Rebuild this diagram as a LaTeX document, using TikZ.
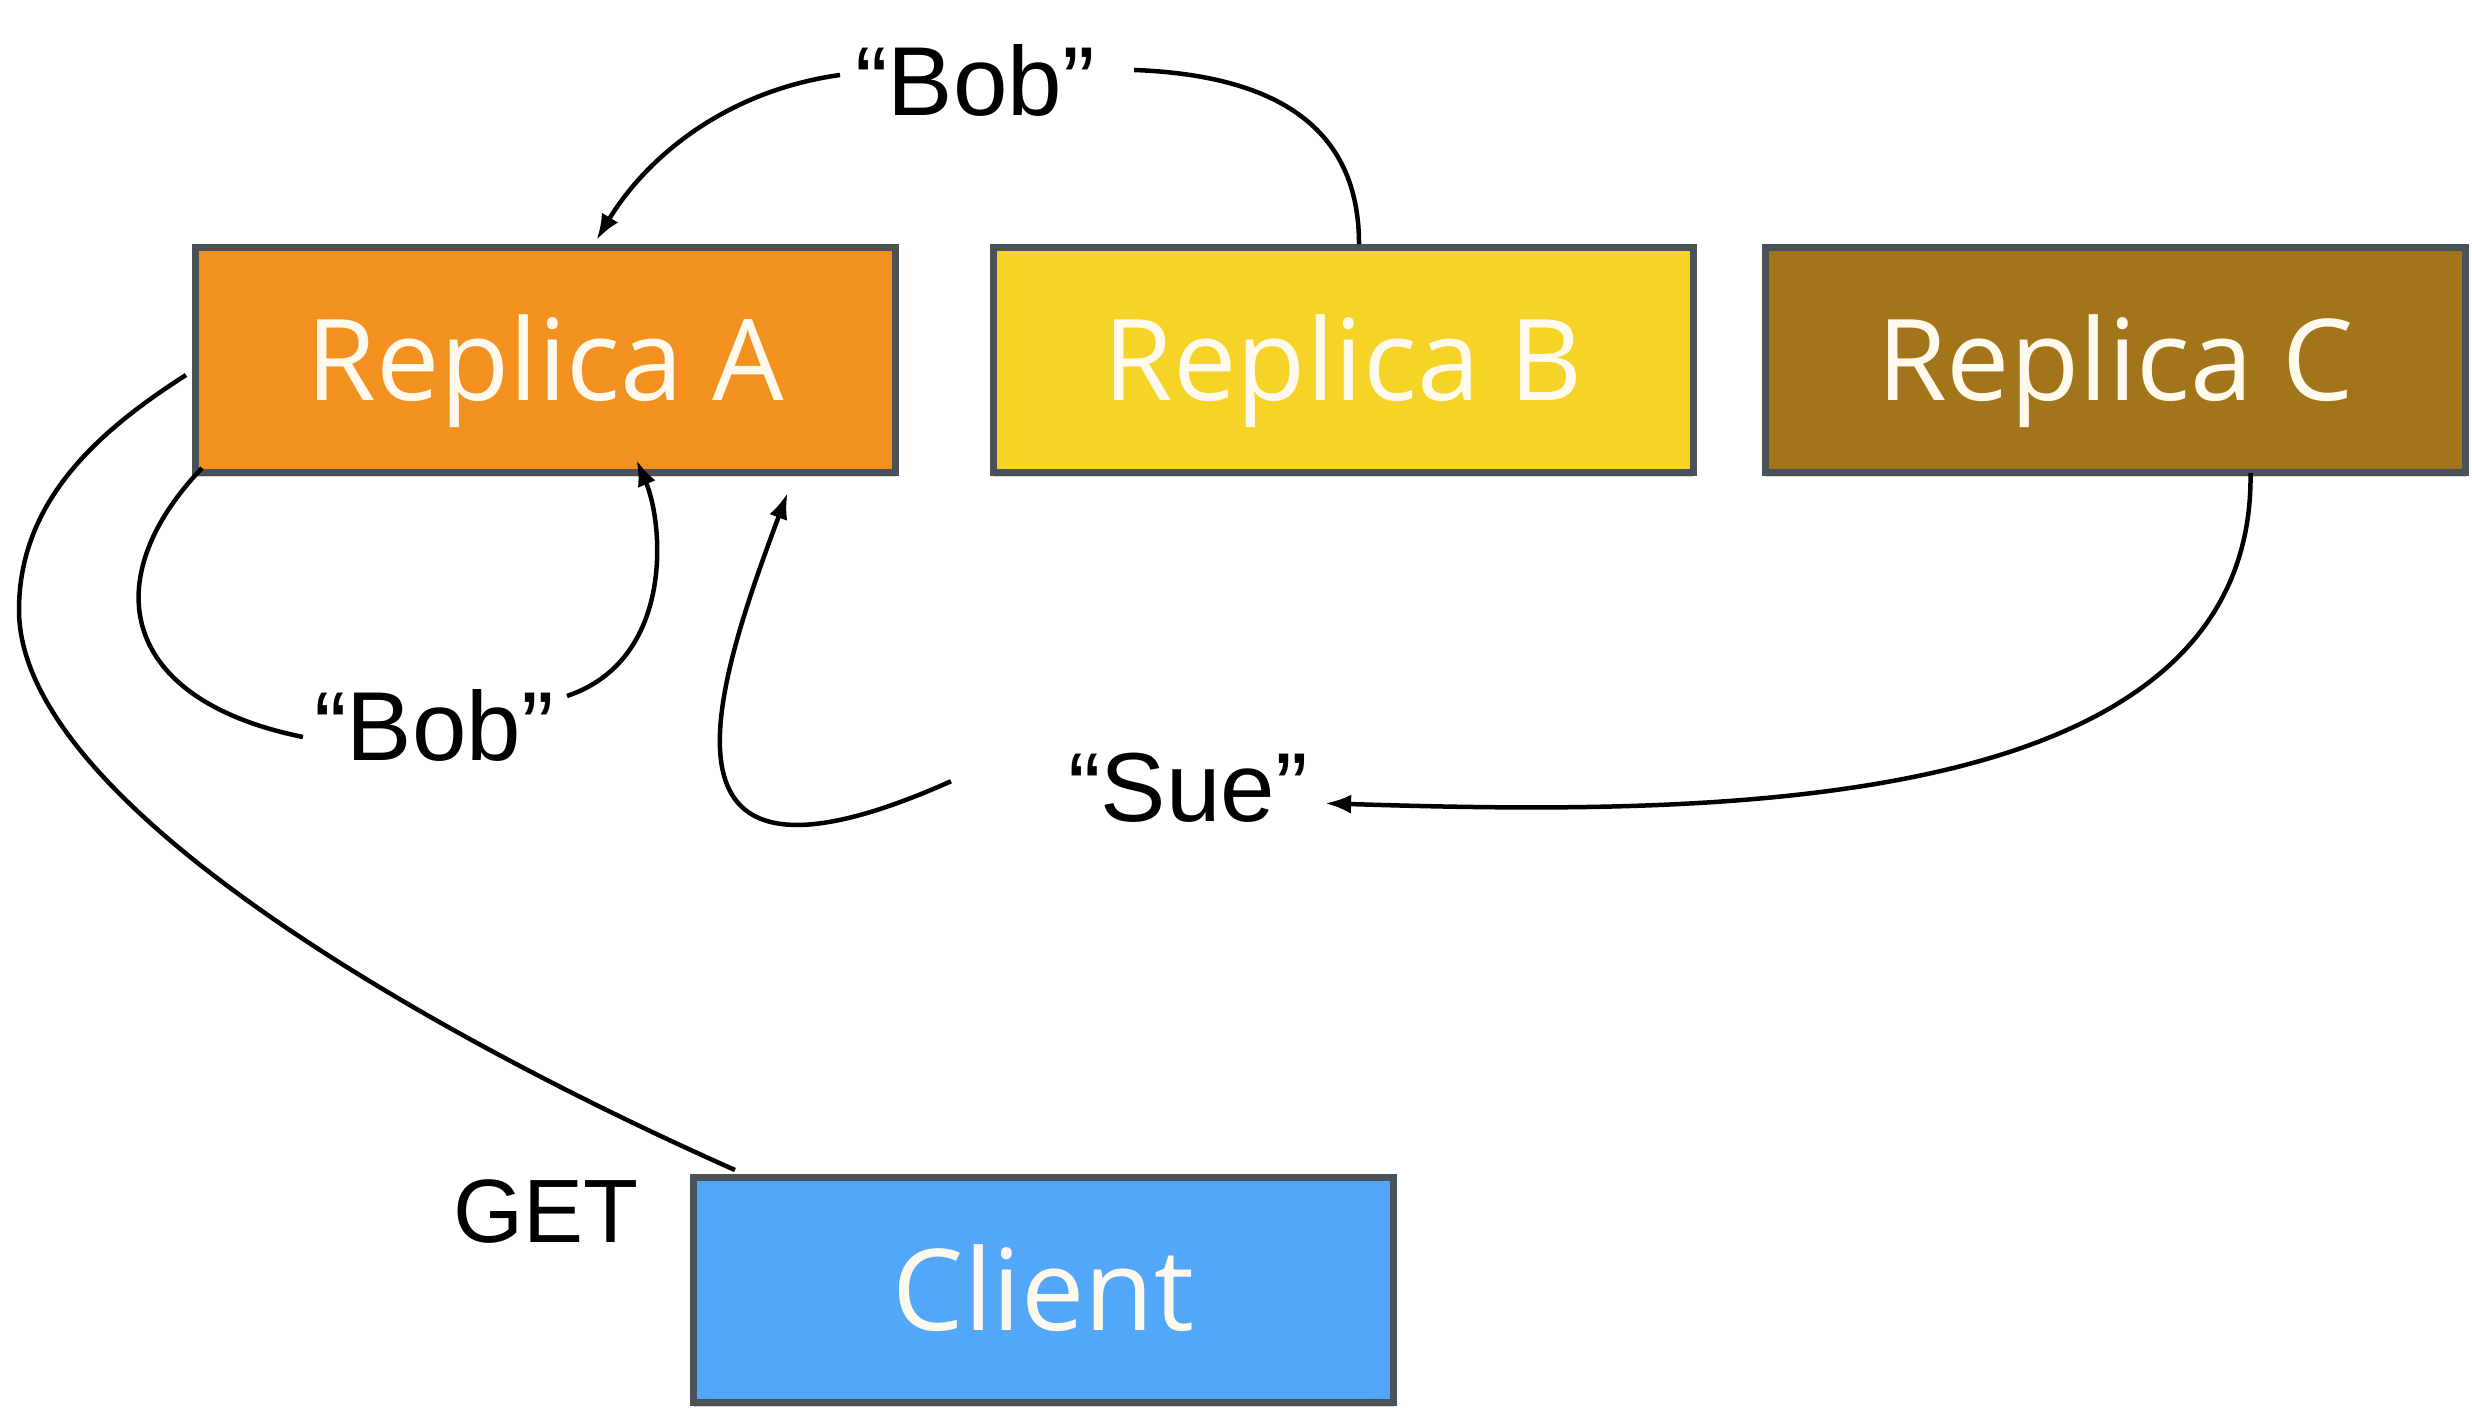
\documentclass[tikz,border=0pt]{standalone}
\usepackage{fontspec}
\newfontfamily\boxfont{Open Sans}
\newfontfamily\lblfont{Liberation Sans}
\usetikzlibrary{arrows.meta,shadows,calc}
\definecolor{bordc}{HTML}{4A5157}
\definecolor{colA}{HTML}{F29120}
\definecolor{colB}{HTML}{F5D327}
\definecolor{colC}{HTML}{A3751A}
\definecolor{colCl}{HTML}{52A7F8}
\definecolor{txtc}{HTML}{FFF9EE}
\tikzset{
  repbox/.style={draw=bordc, line width=7pt, minimum width=700pt, minimum height=225pt,
    inner sep=0pt, text=txtc, font=\boxfont\fontsize{113}{130}\selectfont,
    text height=100pt, text depth=19pt,
    drop shadow={shadow xshift=0pt, shadow yshift=-4pt, fill=black, opacity=0.18}},
  lbl/.style={anchor=base, inner sep=0pt, font=\lblfont\fontsize{98}{110}\selectfont},
  conn/.style={line width=4.5pt},
  arr/.style={conn, -{Latex[length=26pt,width=19pt]}}
}
\begin{document}
\begin{tikzpicture}[x=1pt,y=-1pt]
\useasboundingbox (0,0) rectangle (2472,1409);
\node[repbox, fill=colA] (A) at (545.5,360) {Replica A};
\node[repbox, fill=colB] (B) at (1343,360) {Replica B};
\node[repbox, fill=colC] (C) at (2115.5,360) {Replica C};
\node[repbox, fill=colCl] (cl) at (1043.5,1290) {Client};

\node[lbl] (bobtop) at (975,115) {“Bob”};
\node[lbl] (bobleft) at (434,760) {“Bob”};
\node[lbl] (sue) at (1188,821) {“Sue”};
\node[lbl, font=\lblfont\fontsize{90}{100}\selectfont] (get) at (546,1242) {GET};

% B -> A via top Bob
\coordinate (b1) at ($(B.north)+(16,0)$);
\coordinate (b2) at ($(bobtop.east)+(39,-10)$);
\coordinate (b3) at ($(bobtop.west)+(-15,-5)$);
\coordinate (a1) at ($(A.north)+(51,-4)$);
\draw[conn] (b1) .. controls (1359,142) and (1296,76) .. (b2);
\draw[arr] (b3) .. controls (725,91) and (646,158) .. (a1);

% A -> A via left Bob
\coordinate (l1) at ($(A.south west)+(10,-8)$);
\coordinate (l2) at ($(bobleft.west)+(-11,12)$);
\coordinate (l3) at ($(bobleft.east)+(13,-29)$);
\coordinate (a2) at ($(A.south)+(91,-16)$);
\draw[conn] (l1) .. controls (95,580) and (120,700) .. (l2);
\draw[arr] (l3) .. controls (674,660) and (664,525) .. (a2);

% C -> Sue
\coordinate (c1) at ($(C.south)+(135,-3)$);
\coordinate (s1) at ($(sue.east)+(17,16)$);
\draw[arr] (c1) .. controls (2255,820) and (1700,815) .. (s1);

% Sue -> A
\coordinate (s2) at ($(sue.west)+(-117,-6)$);
\coordinate (a3) at ($(A.south)+(242,17)$);
\draw[arr] (s2) .. controls (640,920) and (710,700) .. (a3);

% Client GET -> A
\coordinate (g1) at ($(cl.north west)+(45,-4)$);
\coordinate (g2) at (19,610);
\coordinate (g3) at ($(A.west)+(-6,15)$);
\draw[conn] (g1) .. controls (420,1030) and (19,800) .. (g2)
   .. controls (19,500) and (100,430) .. (g3);
\end{tikzpicture}
\end{document}
